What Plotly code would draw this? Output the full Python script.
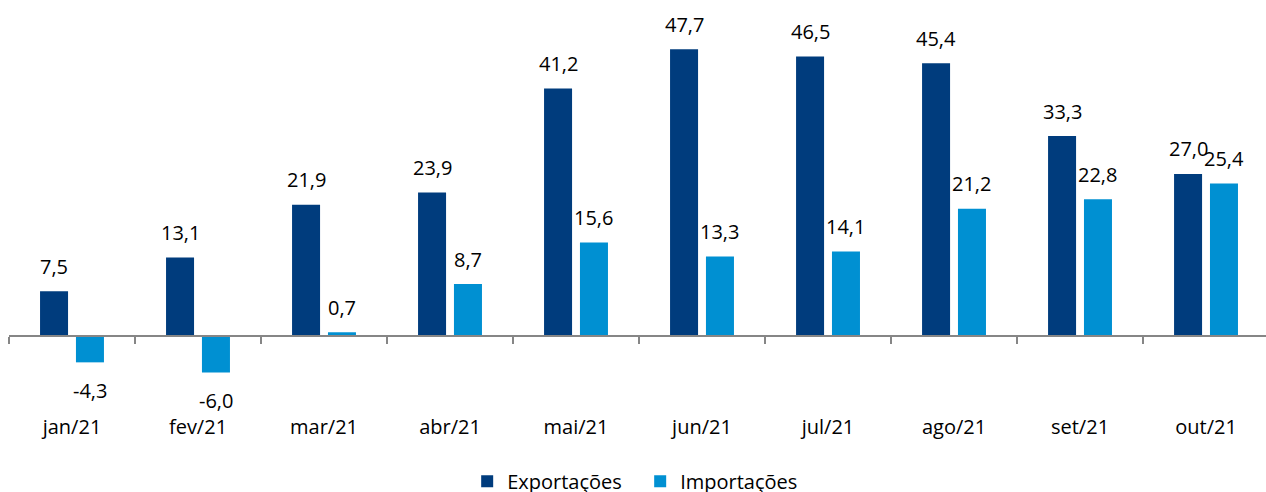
import plotly.graph_objects as go

meses = ["jan/21", "fev/21", "mar/21", "abr/21", "mai/21",
         "jun/21", "jul/21", "ago/21", "set/21", "out/21"]
exportacoes = [7.5, 13.1, 21.9, 23.9, 41.2, 47.7, 46.5, 45.4, 33.3, 27.0]
importacoes = [-4.3, -6.0, 0.7, 8.7, 15.6, 13.3, 14.1, 21.2, 22.8, 25.4]

COR_EXP = "#003C7D"
COR_IMP = "#0090D2"
FONTE = "Open Sans"
BARGAP = 0.43
BARGROUPGAP = 0.22
Y_RANGE = [-17.2, 55.9]


def fmt(v):
    return f"{v:.1f}".replace(".", ",")


fig = go.Figure()
fig.add_trace(go.Bar(x=meses, y=exportacoes, name="Exportações",
                     marker=dict(color=COR_EXP, line=dict(width=0))))
fig.add_trace(go.Bar(x=meses, y=importacoes, name="Importações",
                     marker=dict(color=COR_IMP, line=dict(width=0))))

# data labels above (or below, for negatives) each bar
desloc = (1 - BARGAP) / 4
anot = []
for serie, sinal in ((exportacoes, -1), (importacoes, 1)):
    for i, v in enumerate(serie):
        anot.append(dict(
            x=i + sinal * desloc, y=v, xref="x", yref="y",
            text=fmt(v), showarrow=False,
            yanchor="middle", yshift=25 if v >= 0 else -28,
            font=dict(family=FONTE, size=20, color="#000000"),
        ))

zero_pos = (0 - Y_RANGE[0]) / (Y_RANGE[1] - Y_RANGE[0])

fig.update_layout(
    width=1266, height=492,
    margin=dict(l=9, r=0, t=0, b=52, autoexpand=False),
    paper_bgcolor="white", plot_bgcolor="white",
    barmode="group", bargap=BARGAP, bargroupgap=BARGROUPGAP,
    annotations=anot,
    showlegend=True,
    legend=dict(orientation="h", x=0.3645, xanchor="left",
                y=0.022, yref="container", yanchor="middle",
                font=dict(family=FONTE, size=20, color="#000000"),
                itemwidth=30, traceorder="normal",
                entrywidth=128, entrywidthmode="pixels"),
    xaxis=dict(
        type="category", range=[-0.5, 9.476],
        anchor="free", position=zero_pos,
        showline=True, linecolor="#868686", linewidth=1.5,
        ticks="outside", tickson="boundaries", ticklen=7,
        tickcolor="#868686", tickwidth=1.5,
        ticklabelstandoff=73,
        tickfont=dict(family=FONTE, size=20, color="#000000"),
        showgrid=False, zeroline=False,
    ),
    yaxis=dict(range=Y_RANGE, visible=False, showgrid=False, zeroline=False),
)

fig.write_html("out.html")
